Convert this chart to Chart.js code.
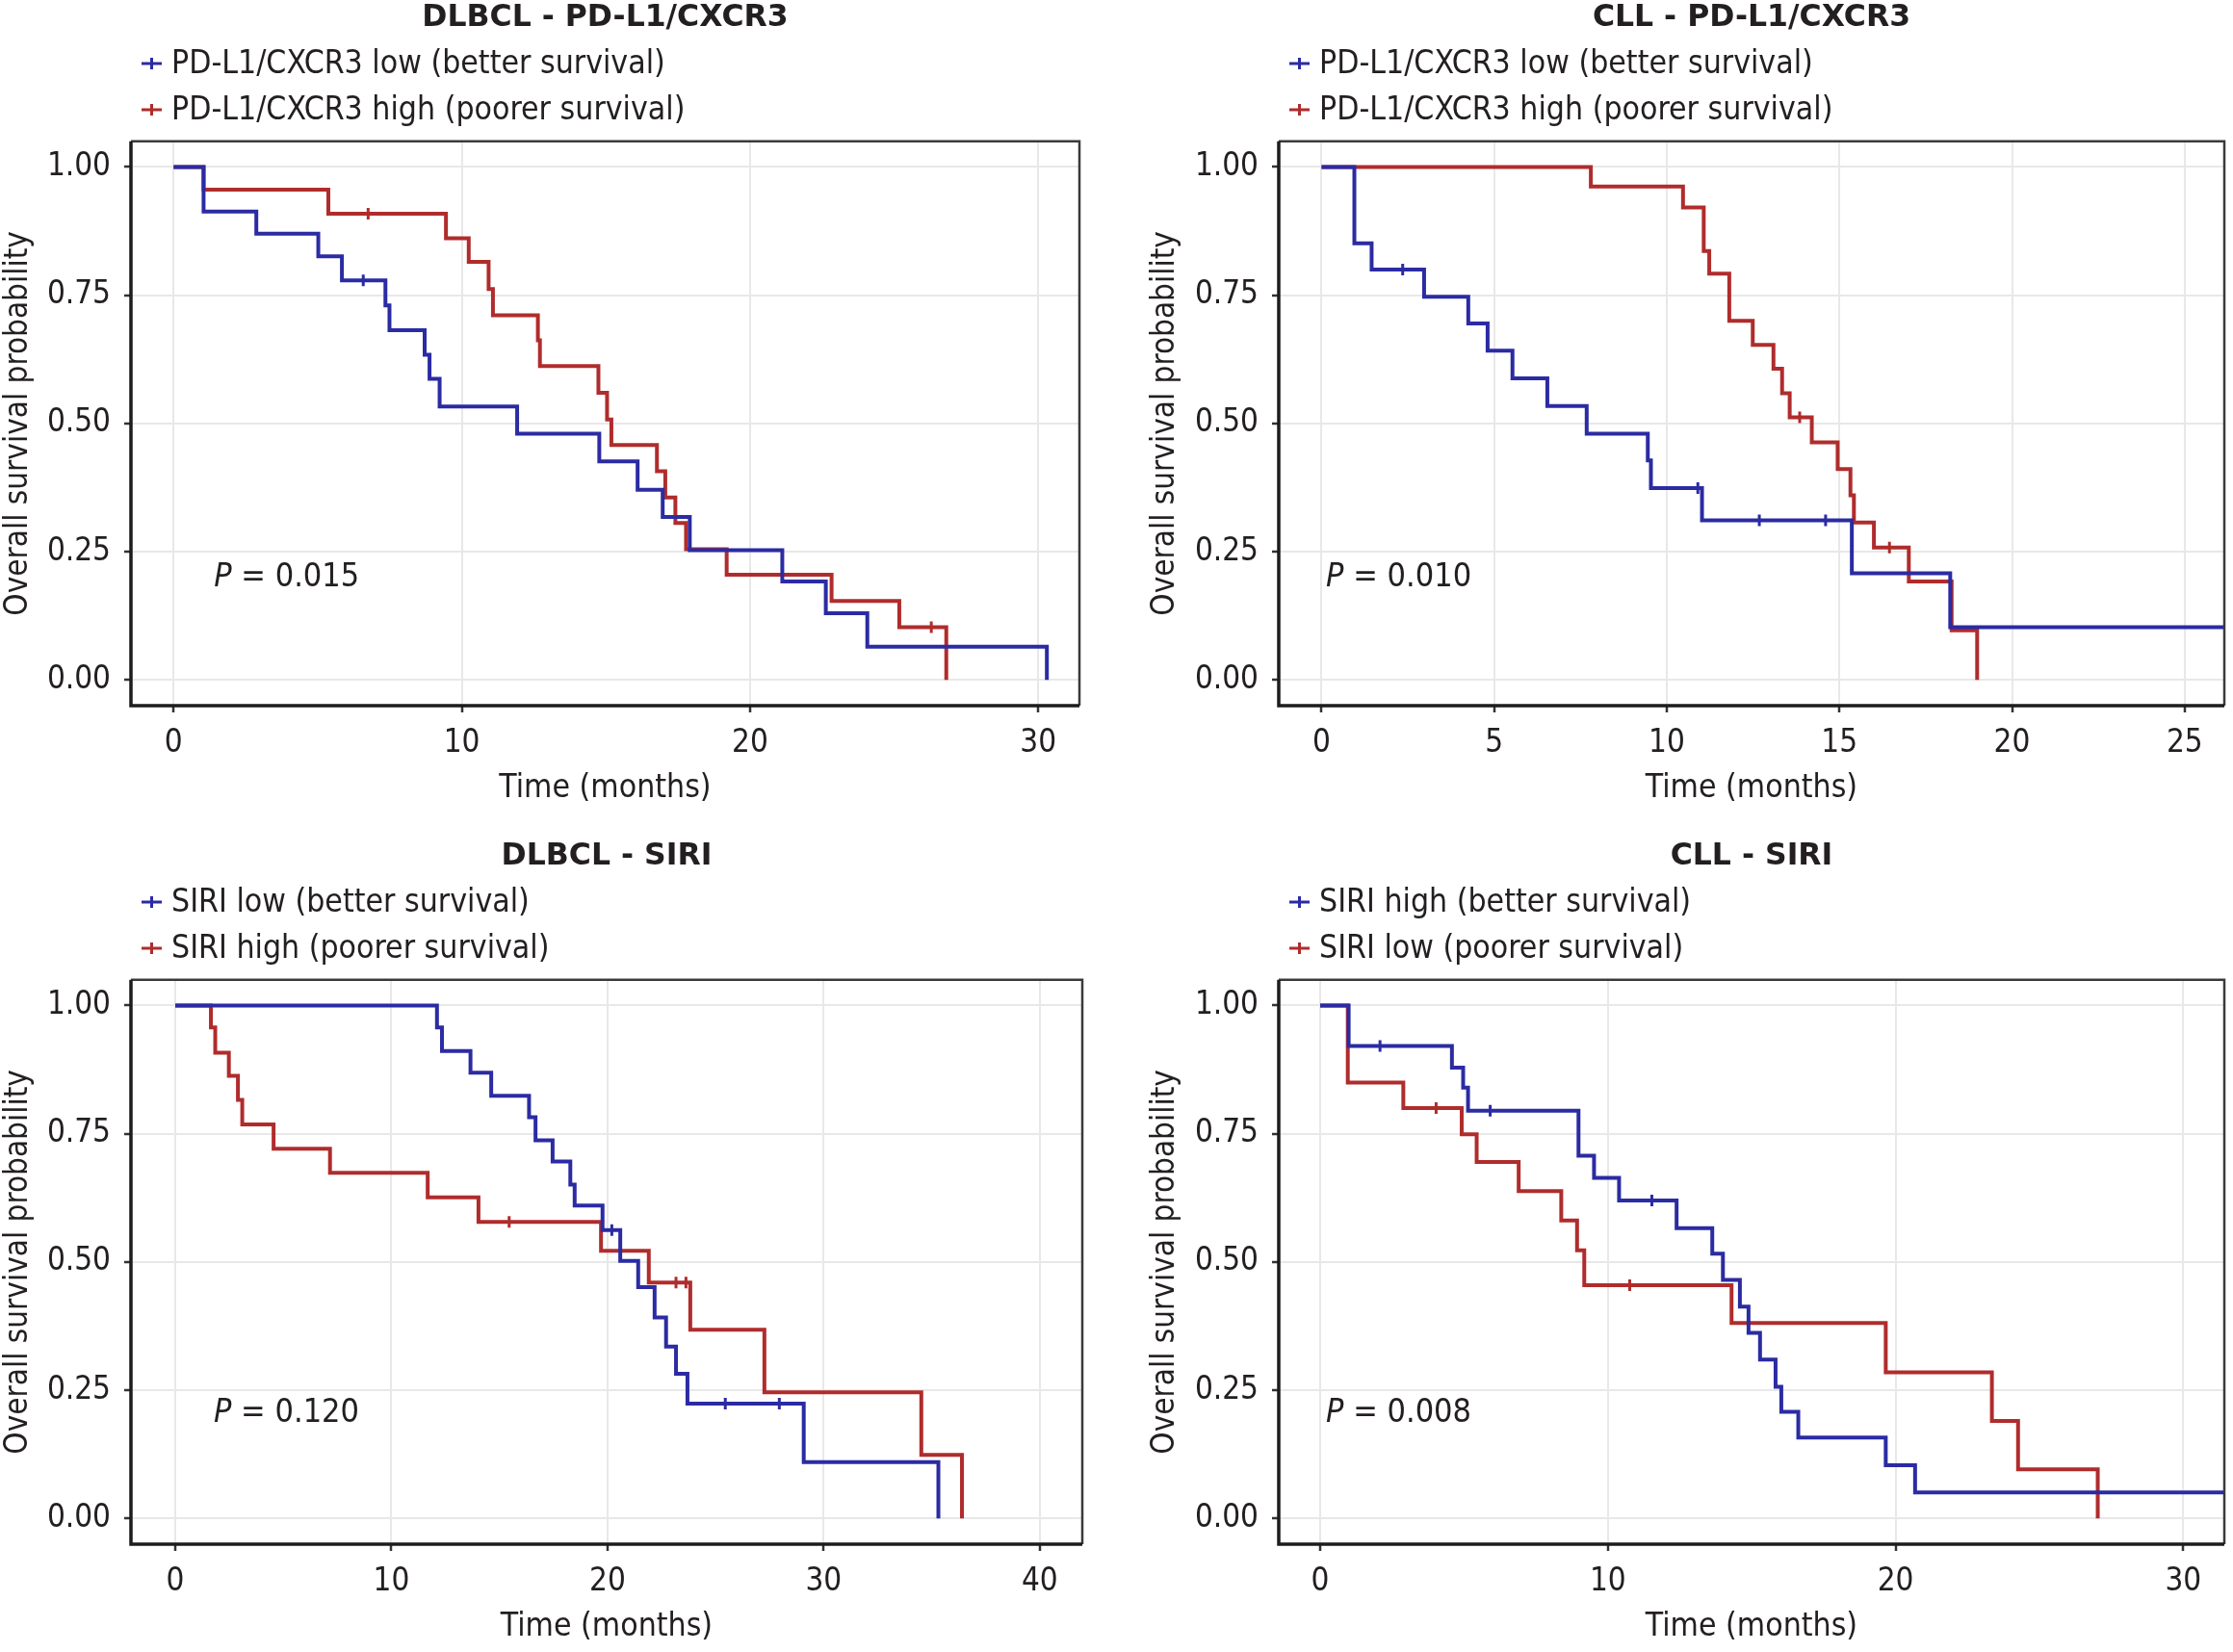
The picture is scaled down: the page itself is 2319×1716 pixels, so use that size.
<!DOCTYPE html>
<html>
<head>
<meta charset="utf-8">
<title>Kaplan-Meier survival curves</title>
<script src="https://cdn.jsdelivr.net/npm/chart.js@4.4.1/dist/chart.umd.min.js"></script>
<style>
html,body{margin:0;padding:0;background:#ffffff;overflow:hidden;width:2319px;height:1716px;}
.panel{position:absolute;}
</style>
</head>
<body>
<div class="panel" style="left:0px;top:0px;width:1160px;height:846px"><canvas id="c1"></canvas></div>
<div class="panel" style="left:1160px;top:0px;width:1159px;height:846px"><canvas id="c2"></canvas></div>
<div class="panel" style="left:0px;top:871px;width:1160px;height:846px"><canvas id="c3"></canvas></div>
<div class="panel" style="left:1160px;top:871px;width:1159px;height:846px"><canvas id="c4"></canvas></div>
<script>
// ---------- Titles, legends, p-values ----------
const titles = ["DLBCL - PD-L1/CXCR3", "CLL - PD-L1/CXCR3", "DLBCL - SIRI", "CLL - SIRI"];
const blueLabels = ["PD-L1/CXCR3 low (better survival)", "PD-L1/CXCR3 low (better survival)", "SIRI low (better survival)", "SIRI high (better survival)"];
const redLabels = ["PD-L1/CXCR3 high (poorer survival)", "PD-L1/CXCR3 high (poorer survival)", "SIRI high (poorer survival)", "SIRI low (poorer survival)"];
const pValues = ["0.015", "0.010", "0.120", "0.008"];

// ---------- Tick labels ----------
const yTicks = [0, 0.25, 0.5, 0.75, 1];
const xTicks1 = [0, 10, 20, 30];
const xTicks2 = [0, 5, 10, 15, 20, 25];
const xTicks3 = [0, 10, 20, 30, 40];
const xTicks4 = [0, 10, 20, 30];

// ---------- Panel 1: DLBCL - PD-L1/CXCR3 ----------
const p1BlueTime = [0, 1.04, 2.87, 5.02, 5.84, 7.35, 7.49, 8.71, 8.88, 9.23, 11.92, 14.77, 16.10, 16.97, 17.91, 21.12, 22.63, 24.07, 30.3];
const p1BlueSurv = [1, 0.913, 0.870, 0.826, 0.779, 0.730, 0.682, 0.634, 0.587, 0.533, 0.480, 0.426, 0.371, 0.318, 0.253, 0.192, 0.130, 0.065, 0];
const p1BlueCensor = [6.58];
const p1RedTime = [0, 1.04, 5.37, 9.45, 10.24, 10.93, 11.08, 12.64, 12.71, 14.74, 15.04, 15.19, 16.77, 17.06, 17.41, 17.78, 19.19, 22.83, 25.18, 26.81];
const p1RedSurv = [1, 0.956, 0.909, 0.861, 0.815, 0.762, 0.711, 0.662, 0.612, 0.560, 0.508, 0.458, 0.407, 0.356, 0.306, 0.255, 0.205, 0.154, 0.103, 0];
const p1RedCensor = [6.75, 26.29];

// ---------- Panel 2: CLL - PD-L1/CXCR3 ----------
const p2BlueTime = [0, 0.95, 1.45, 2.97, 4.25, 4.81, 5.53, 6.54, 7.68, 9.45, 9.54, 11.02, 15.36, 18.21, 27];
const p2BlueSurv = [1, 0.851, 0.800, 0.747, 0.695, 0.642, 0.588, 0.534, 0.480, 0.428, 0.374, 0.311, 0.208, 0.103, 0.103];
const p2BlueCensor = [2.35, 10.9, 12.68, 14.6];
const p2RedTime = [0, 7.80, 10.47, 11.07, 11.23, 11.81, 12.49, 13.09, 13.34, 13.56, 14.20, 14.95, 15.32, 15.42, 16.00, 17.01, 18.25, 18.99];
const p2RedSurv = [1, 0.962, 0.921, 0.836, 0.792, 0.700, 0.653, 0.607, 0.559, 0.512, 0.463, 0.411, 0.360, 0.307, 0.258, 0.192, 0.097, 0];
const p2RedCensor = [13.85, 16.45];

// ---------- Panel 3: DLBCL - SIRI ----------
const p3BlueTime = [0, 12.11, 12.34, 13.66, 14.62, 16.37, 16.67, 17.46, 18.28, 18.48, 19.77, 20.59, 21.42, 22.18, 22.71, 23.17, 23.70, 29.08, 35.31];
const p3BlueSurv = [1, 0.957, 0.911, 0.869, 0.824, 0.782, 0.737, 0.696, 0.651, 0.610, 0.562, 0.502, 0.451, 0.392, 0.335, 0.282, 0.224, 0.110, 0];
const p3BlueCensor = [20.2, 25.45, 27.95];
const p3RedTime = [0, 1.65, 1.85, 2.48, 2.90, 3.10, 4.55, 7.16, 11.68, 14.03, 19.70, 21.91, 23.83, 27.26, 34.52, 36.40];
const p3RedSurv = [1, 0.957, 0.908, 0.863, 0.816, 0.768, 0.721, 0.674, 0.626, 0.578, 0.522, 0.460, 0.368, 0.246, 0.124, 0];
const p3RedCensor = [15.45, 23.17, 23.63];

// ---------- Panel 4: CLL - SIRI ----------
const p4BlueTime = [0, 0.99, 4.58, 4.97, 5.14, 8.98, 9.52, 10.39, 12.39, 13.63, 14.00, 14.59, 14.89, 15.29, 15.83, 16.03, 16.62, 19.66, 20.68, 32];
const p4BlueSurv = [1, 0.921, 0.879, 0.840, 0.795, 0.707, 0.664, 0.620, 0.566, 0.516, 0.465, 0.413, 0.362, 0.310, 0.257, 0.208, 0.158, 0.104, 0.051, 0.051];
const p4BlueCensor = [2.08, 5.91, 11.53];
const p4RedTime = [0, 0.96, 2.89, 4.92, 5.44, 6.90, 8.38, 8.93, 9.18, 14.30, 19.66, 23.35, 24.26, 27.03];
const p4RedSurv = [1, 0.850, 0.800, 0.749, 0.695, 0.638, 0.581, 0.523, 0.455, 0.381, 0.285, 0.190, 0.096, 0];
const p4RedCensor = [4.03, 10.76];

// ---------- Styling ----------
const BLUE = '#2b2ba3';
const RED = '#b02c2c';
const TEXT = '#231f20';
const COND = '"DejaVu Sans Condensed", "DejaVu Sans", sans-serif';

function stepPoints(t, s) { return t.map((x, i) => ({x: x, y: s[i]})); }
function censorPoints(c, t, s) {
  return c.map(ct => {
    let v = s[0];
    for (let i = 0; i < t.length; i++) { if (t[i] <= ct) v = s[i]; }
    return {x: ct, y: v};
  });
}

const kmDecor = {
  id: 'kmDecor',
  afterDraw(chart, args, opts) {
    const ctx = chart.ctx;
    const a = chart.chartArea;
    ctx.save();
    // plot frame
    ctx.strokeStyle = '#3a3a3a';
    ctx.lineWidth = 2.5;
    ctx.beginPath();
    ctx.moveTo(a.left, a.top); ctx.lineTo(a.right, a.top); ctx.lineTo(a.right, a.bottom);
    ctx.stroke();
    ctx.strokeStyle = '#1c1c1c';
    ctx.lineWidth = 3.5;
    ctx.beginPath();
    ctx.moveTo(a.left, a.top); ctx.lineTo(a.left, a.bottom); ctx.lineTo(a.right, a.bottom);
    ctx.stroke();
    // legend
    const rows = [66, 114];
    let r = 0;
    chart.data.datasets.forEach(ds => {
      if (!ds.legendItem) return;
      const y = rows[r++];
      const x0 = a.left + 11;
      ctx.strokeStyle = ds.borderColor;
      ctx.lineWidth = 3;
      ctx.beginPath();
      ctx.moveTo(x0, y); ctx.lineTo(x0 + 21, y);
      ctx.moveTo(x0 + 10.5, y - 6); ctx.lineTo(x0 + 10.5, y + 6);
      ctx.stroke();
      ctx.fillStyle = TEXT;
      ctx.font = '33.5px ' + COND;
      ctx.textAlign = 'left';
      ctx.textBaseline = 'middle';
      ctx.fillText(ds.label, a.left + 42, y + 1);
    });
    // p-value
    const xs = chart.scales.x, ys = chart.scales.y;
    const px = xs.getPixelForValue(opts.px);
    const py = ys.getPixelForValue(opts.py);
    ctx.fillStyle = TEXT;
    ctx.textBaseline = 'middle';
    ctx.textAlign = 'left';
    ctx.font = 'italic 34px ' + COND;
    ctx.fillText('P', px, py);
    const w = ctx.measureText('P').width;
    ctx.font = '34px ' + COND;
    ctx.fillText(' = ' + opts.text, px + w, py);
    ctx.restore();
  }
};

function makeChart(id, idx, bt, bs, bc, rt, rs, rc, xt, xmin, xmax, yAxisW, yTitlePad, rightPad, pX, pY) {
  const ctx = document.getElementById(id);
  return new Chart(ctx, {
    type: 'line',
    data: {
      datasets: [
        {label: blueLabels[idx], legendItem: true, data: stepPoints(bt, bs), borderColor: BLUE, backgroundColor: BLUE, borderWidth: 4, stepped: 'before', pointRadius: 0, fill: false},
        {label: redLabels[idx], legendItem: true, data: stepPoints(rt, rs), borderColor: RED, backgroundColor: RED, borderWidth: 4, stepped: 'before', pointRadius: 0, fill: false},
        {label: 'censor-blue', data: censorPoints(bc, bt, bs), showLine: false, pointStyle: 'line', pointRotation: 90, pointRadius: 6, pointBorderWidth: 3, borderColor: BLUE, pointBorderColor: BLUE},
        {label: 'censor-red', data: censorPoints(rc, rt, rs), showLine: false, pointStyle: 'line', pointRotation: 90, pointRadius: 6, pointBorderWidth: 3, borderColor: RED, pointBorderColor: RED}
      ]
    },
    options: {
      responsive: true,
      maintainAspectRatio: false,
      animation: false,
      events: [],
      layout: {padding: {left: 0, right: rightPad, top: 0, bottom: 0}},
      plugins: {
        legend: {display: false},
        tooltip: {enabled: false},
        title: {display: true, text: titles[idx], fullSize: false, color: TEXT,
          font: {family: '"DejaVu Sans", sans-serif', size: 31.5, weight: 'bold', lineHeight: 1.2},
          padding: {top: 0, bottom: 109}},
        kmDecor: {px: pX, py: pY, text: pValues[idx]}
      },
      scales: {
        x: {
          type: 'linear', min: xmin, max: xmax,
          afterBuildTicks: s => { s.ticks = xt.map(v => ({value: v})); },
          afterFit: s => { s.height = 113; },
          ticks: {color: TEXT, font: {family: COND, size: 33}, padding: 13, maxRotation: 0, autoSkip: false, callback: v => String(v)},
          grid: {color: '#e8e8e8', lineWidth: 2, tickColor: '#333333', tickLength: 7, tickWidth: 2.5},
          border: {display: false},
          title: {display: true, text: 'Time (months)', color: TEXT, font: {family: COND, size: 33.5, lineHeight: 1.2}, padding: {top: 0, bottom: 7}}
        },
        y: {
          type: 'linear', min: -0.05, max: 1.05,
          afterBuildTicks: s => { s.ticks = yTicks.map(v => ({value: v})); },
          afterFit: s => { s.width = yAxisW; },
          ticks: {color: TEXT, font: {family: COND, size: 33}, padding: 14, autoSkip: false, callback: v => Number(v).toFixed(2)},
          grid: {color: '#e8e8e8', lineWidth: 2, tickColor: '#333333', tickLength: 7, tickWidth: 2.5},
          border: {display: false},
          title: {display: true, text: 'Overall survival probability', color: TEXT, font: {family: COND, size: 33, lineHeight: 1.2}, padding: {top: yTitlePad, bottom: 0}}
        }
      }
    },
    plugins: [kmDecor]
  });
}

makeChart('c1', 0, p1BlueTime, p1BlueSurv, p1BlueCensor, p1RedTime, p1RedSurv, p1RedCensor, xTicks1, -1.48, 31.43, 136, 0, 39, 1.40, 0.20);
makeChart('c2', 1, p2BlueTime, p2BlueSurv, p2BlueCensor, p2RedTime, p2RedSurv, p2RedCensor, xTicks2, -1.24, 26.15, 168, 31, 9, 0.13, 0.20);
makeChart('c3', 2, p3BlueTime, p3BlueSurv, p3BlueCensor, p3RedTime, p3RedSurv, p3RedCensor, xTicks3, -2.05, 41.97, 136, 0, 36, 1.78, 0.205);
makeChart('c4', 3, p4BlueTime, p4BlueSurv, p4BlueCensor, p4RedTime, p4RedSurv, p4RedCensor, xTicks4, -1.44, 31.43, 168, 31, 9, 0.20, 0.205);
</script>
</body>
</html>
